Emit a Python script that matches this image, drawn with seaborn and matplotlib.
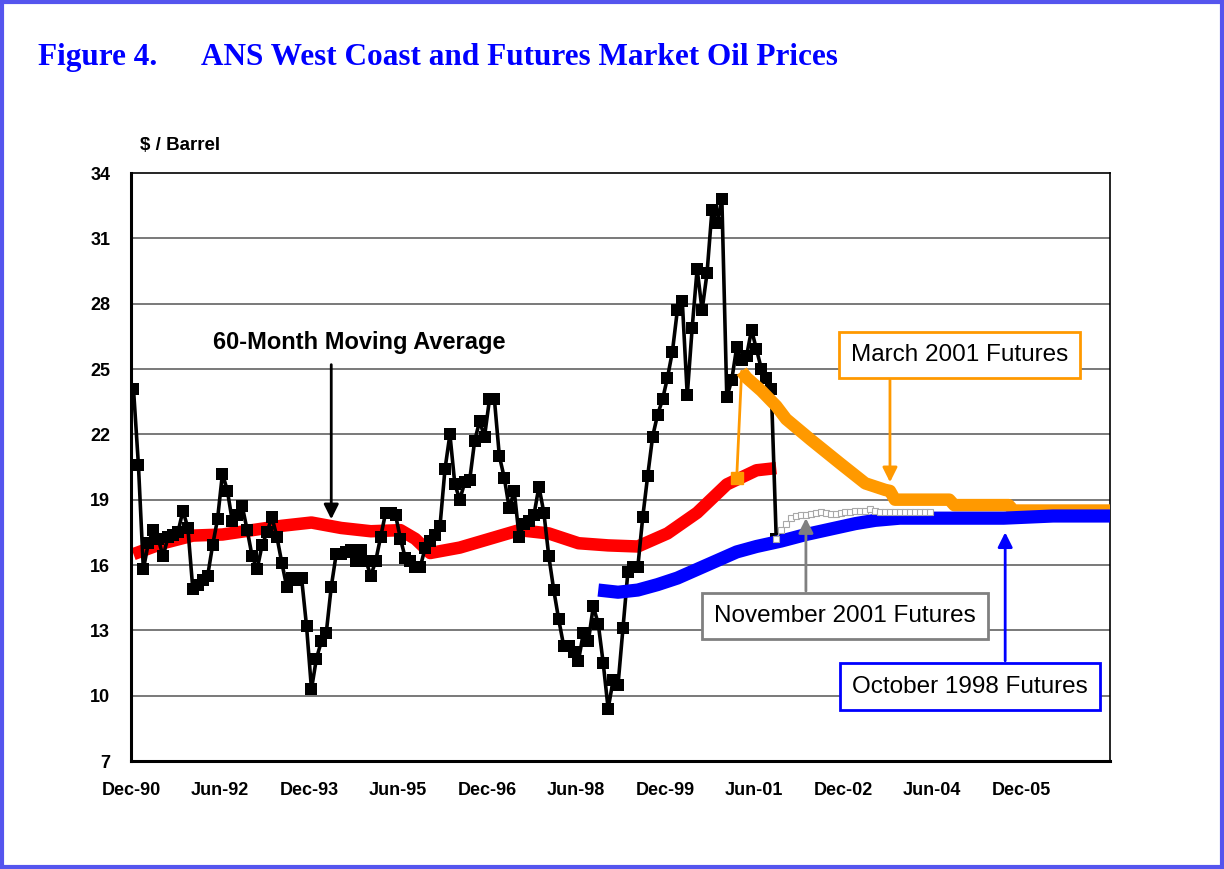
import numpy as np
import pandas as pd
import matplotlib
matplotlib.use('Agg')
import matplotlib.pyplot as plt
from matplotlib.patches import Rectangle
import seaborn as sns

# ANS West Coast monthly price, Dec-90 .. Oct-01 (one value per month)
ans_price = [24.1, 20.6, 15.8, 17.0, 17.6, 17.2, 16.4, 17.3, 17.4, 17.5,
             18.5, 17.7, 14.9, 15.1, 15.3, 15.5, 16.9, 18.1, 20.2, 19.4,
             18.0, 18.3, 18.7, 17.6, 16.4, 15.8, 16.9, 17.5, 18.2, 17.3,
             16.1, 15.0, 15.4, 15.3, 15.4, 13.2, 10.3, 11.7, 12.5, 12.9,
             15.0, 16.5, 16.5, 16.6, 16.7, 16.2, 16.7, 16.2, 15.5, 16.2,
             17.3, 18.4, 18.4, 18.3, 17.2, 16.3, 16.2, 15.9, 15.9, 16.8,
             17.1, 17.4, 17.8, 20.4, 22.0, 19.7, 19.0, 19.8, 19.9, 21.7,
             22.6, 21.9, 23.6, 23.6, 21.0, 20.0, 18.6, 19.4, 17.3, 17.9,
             18.0, 18.3, 19.6, 18.4, 16.4, 14.85, 13.5, 12.3, 12.3, 12.0,
             11.6, 12.9, 12.5, 14.1, 13.3, 11.5, 9.4, 10.7, 10.5, 13.1,
             15.7, 15.9, 15.9, 18.2, 20.1, 21.9, 22.9, 23.6, 24.6, 25.8,
             27.7, 28.1, 23.8, 26.9, 29.6, 27.7, 29.4, 32.3, 31.7, 32.8,
             23.7, 24.5, 26.0, 25.4, 25.6, 26.8, 25.9, 25.0, 24.6, 24.1,
             17.2]

# 60-month moving average (month index from Dec-90)
ma_months = [0, 6, 12, 18, 24, 30, 36, 42, 48, 54, 57, 60, 66, 72, 78,
             84, 90, 96, 102, 108, 114, 120, 126, 130]
ma_values = [16.5, 17.0, 17.35, 17.4, 17.6, 17.8, 17.95, 17.7, 17.55, 17.6,
             17.2, 16.55, 16.8, 17.2, 17.6, 17.45, 17.0, 16.9, 16.85, 17.45,
             18.4, 19.7, 20.35, 20.45]

# October 1998 futures strip
oct98_months = [94, 98, 102, 106, 110, 114, 118, 122, 126, 131, 136, 141,
                146, 150, 155, 162, 176, 186, 198]
oct98_values = [14.85, 14.75, 14.85, 15.1, 15.4, 15.8, 16.2, 16.6, 16.85,
                17.1, 17.4, 17.65, 17.9, 18.05, 18.15, 18.15, 18.15, 18.25,
                18.25]

# March 2001 futures strip (first point is the spot price it starts from)
mar01_months = [122, 123, 124, 127, 130, 132, 137, 143, 148, 152, 153, 154,
                165, 166, 177, 178, 198]
mar01_values = [20.0, 24.9, 24.6, 24.0, 23.3, 22.7, 21.75, 20.65, 19.75,
                19.45, 19.4, 19.0, 19.0, 18.75, 18.75, 18.5, 18.5]

# November 2001 futures strip, monthly from Oct-01
nov01_start = 130
nov01_values = [17.2, 17.6, 17.9, 18.15, 18.25, 18.3, 18.3, 18.35, 18.4,
                18.45, 18.4, 18.35, 18.35, 18.4, 18.45, 18.45, 18.5, 18.5,
                18.5, 18.55, 18.5, 18.45, 18.45, 18.45, 18.45, 18.45, 18.45,
                18.45, 18.45, 18.45, 18.45, 18.45]

tick_labels = ['Dec-90', 'Jun-92', 'Dec-93', 'Jun-95', 'Dec-96', 'Jun-98',
               'Dec-99', 'Jun-01', 'Dec-02', 'Jun-04', 'Dec-05', '']

sns.set_style('white')
plt.rcParams['font.family'] = ['Liberation Sans', 'DejaVu Sans']
plt.rcParams['text.color'] = 'black'
plt.rcParams['xtick.color'] = 'black'
plt.rcParams['ytick.color'] = 'black'

df_ans = pd.DataFrame({'m': np.arange(len(ans_price)) + 0.5, 'price': ans_price})
df_ma = pd.DataFrame({'m': np.array(ma_months) + 0.5, 'price': ma_values})
df_oct = pd.DataFrame({'m': np.array(oct98_months) + 0.5, 'price': oct98_values})
df_mar = pd.DataFrame({'m': np.array(mar01_months) + 0.5, 'price': mar01_values})
df_nov = pd.DataFrame({'m': np.arange(len(nov01_values)) + nov01_start + 0.5,
                       'price': nov01_values})

fig = plt.figure(figsize=(12.24, 8.69), dpi=100)
ax = fig.add_axes([131 / 1224, 108 / 869, 979 / 1224, 588 / 869])

# horizontal gridlines
for v in range(10, 34, 3):
    ax.axhline(v, color='#6e6e6e', lw=1.3, zorder=0)

sns.lineplot(data=df_ma, x='m', y='price', ax=ax, color='#ff0000', lw=9,
             solid_capstyle='butt', zorder=2)
sns.lineplot(data=df_ans, x='m', y='price', ax=ax, color='black', lw=2.6,
             marker='s', markersize=8.5, markeredgewidth=0, zorder=3)
sns.lineplot(data=df_mar.iloc[:2], x='m', y='price', ax=ax, color='#ff9900',
             lw=2, zorder=4)
ax.plot(df_mar['m'].iloc[0], df_mar['price'].iloc[0], 's', color='#ff9900',
        ms=8.5, zorder=4)
sns.lineplot(data=df_mar.iloc[1:], x='m', y='price', ax=ax, color='#ff9900',
             lw=9, solid_capstyle='butt', zorder=4)
sns.lineplot(data=df_oct, x='m', y='price', ax=ax, color='#0000ff', lw=9.5,
             solid_capstyle='butt', zorder=5)
sns.lineplot(data=df_nov, x='m', y='price', ax=ax, color='#b8b8b8', lw=1,
             marker='s', markersize=5, markerfacecolor='white',
             markeredgecolor='#a8a8a8', markeredgewidth=0.8, zorder=6)

ax.set_xlim(0, 198)
ax.set_ylim(7, 34)
ax.set_xticks(np.arange(0, 199, 18))
ax.set_xticklabels(tick_labels)
ax.set_yticks(np.arange(7, 35, 3))
ax.set_xlabel('')
ax.set_ylabel('')
ax.tick_params(axis='both', direction='out', length=7, width=1.5,
               labelsize=13, colors='black', pad=8)
for lab in ax.get_xticklabels() + ax.get_yticklabels():
    lab.set_fontweight('bold')
for side in ['left', 'bottom']:
    ax.spines[side].set_linewidth(2.2)
    ax.spines[side].set_color('black')
for side in ['top', 'right']:
    ax.spines[side].set_linewidth(1.2)
    ax.spines[side].set_color('black')

# annotations
arrow_kw = dict(arrowstyle='-|>', mutation_scale=22, lw=2, shrinkA=0, shrinkB=0)

ax.text(46.1, 26.2, '60-Month Moving Average', ha='center', va='center',
        fontsize=17, fontweight='bold', zorder=7)
ax.annotate('', xy=(40.5, 18.1), xytext=(40.5, 25.2),
            arrowprops=dict(color='black', **arrow_kw), zorder=7)

ax.annotate('', xy=(153.5, 19.8), xytext=(153.5, 24.5),
            arrowprops=dict(color='#ff9900', **arrow_kw), zorder=7)
ax.text(167.6, 25.64, 'March 2001 Futures', ha='center', va='center',
        fontsize=17.5, zorder=8,
        bbox=dict(boxstyle='square,pad=0.5', fc='white', ec='#ff9900', lw=2))

ax.annotate('', xy=(136.5, 18.15), xytext=(136.5, 14.8),
            arrowprops=dict(color='#808080', **arrow_kw), zorder=7)
ax.text(144.4, 13.66, 'November 2001 Futures', ha='center', va='center',
        fontsize=17.5, zorder=8,
        bbox=dict(boxstyle='square,pad=0.5', fc='white', ec='#808080', lw=2))

ax.annotate('', xy=(176.8, 17.5), xytext=(176.8, 11.6),
            arrowprops=dict(color='#0000ff', **arrow_kw), zorder=7)
ax.text(169.6, 10.42, 'October 1998 Futures', ha='center', va='center',
        fontsize=17.5, zorder=8,
        bbox=dict(boxstyle='square,pad=0.5', fc='white', ec='#0000ff', lw=2))

# titles
fig.text(38 / 1224, 1 - 65 / 869, 'Figure 4.', fontsize=22.5, fontweight='bold',
         color='#0000ff', family='Liberation Serif', va='baseline')
fig.text(201 / 1224, 1 - 65 / 869, 'ANS West Coast and Futures Market Oil Prices',
         fontsize=22.5, fontweight='bold', color='#0000ff',
         family='Liberation Serif', va='baseline')
fig.text(140 / 1224, 1 - 145 / 869, '$ / Barrel', fontsize=13.5,
         fontweight='bold', va='center')

# outer frame
fig.patches.append(Rectangle((0.0015, 0.002), 0.997, 0.996, transform=fig.transFigure,
                             fill=False, ec='#5555ee', lw=3))

fig.savefig('out.png', dpi=100)
